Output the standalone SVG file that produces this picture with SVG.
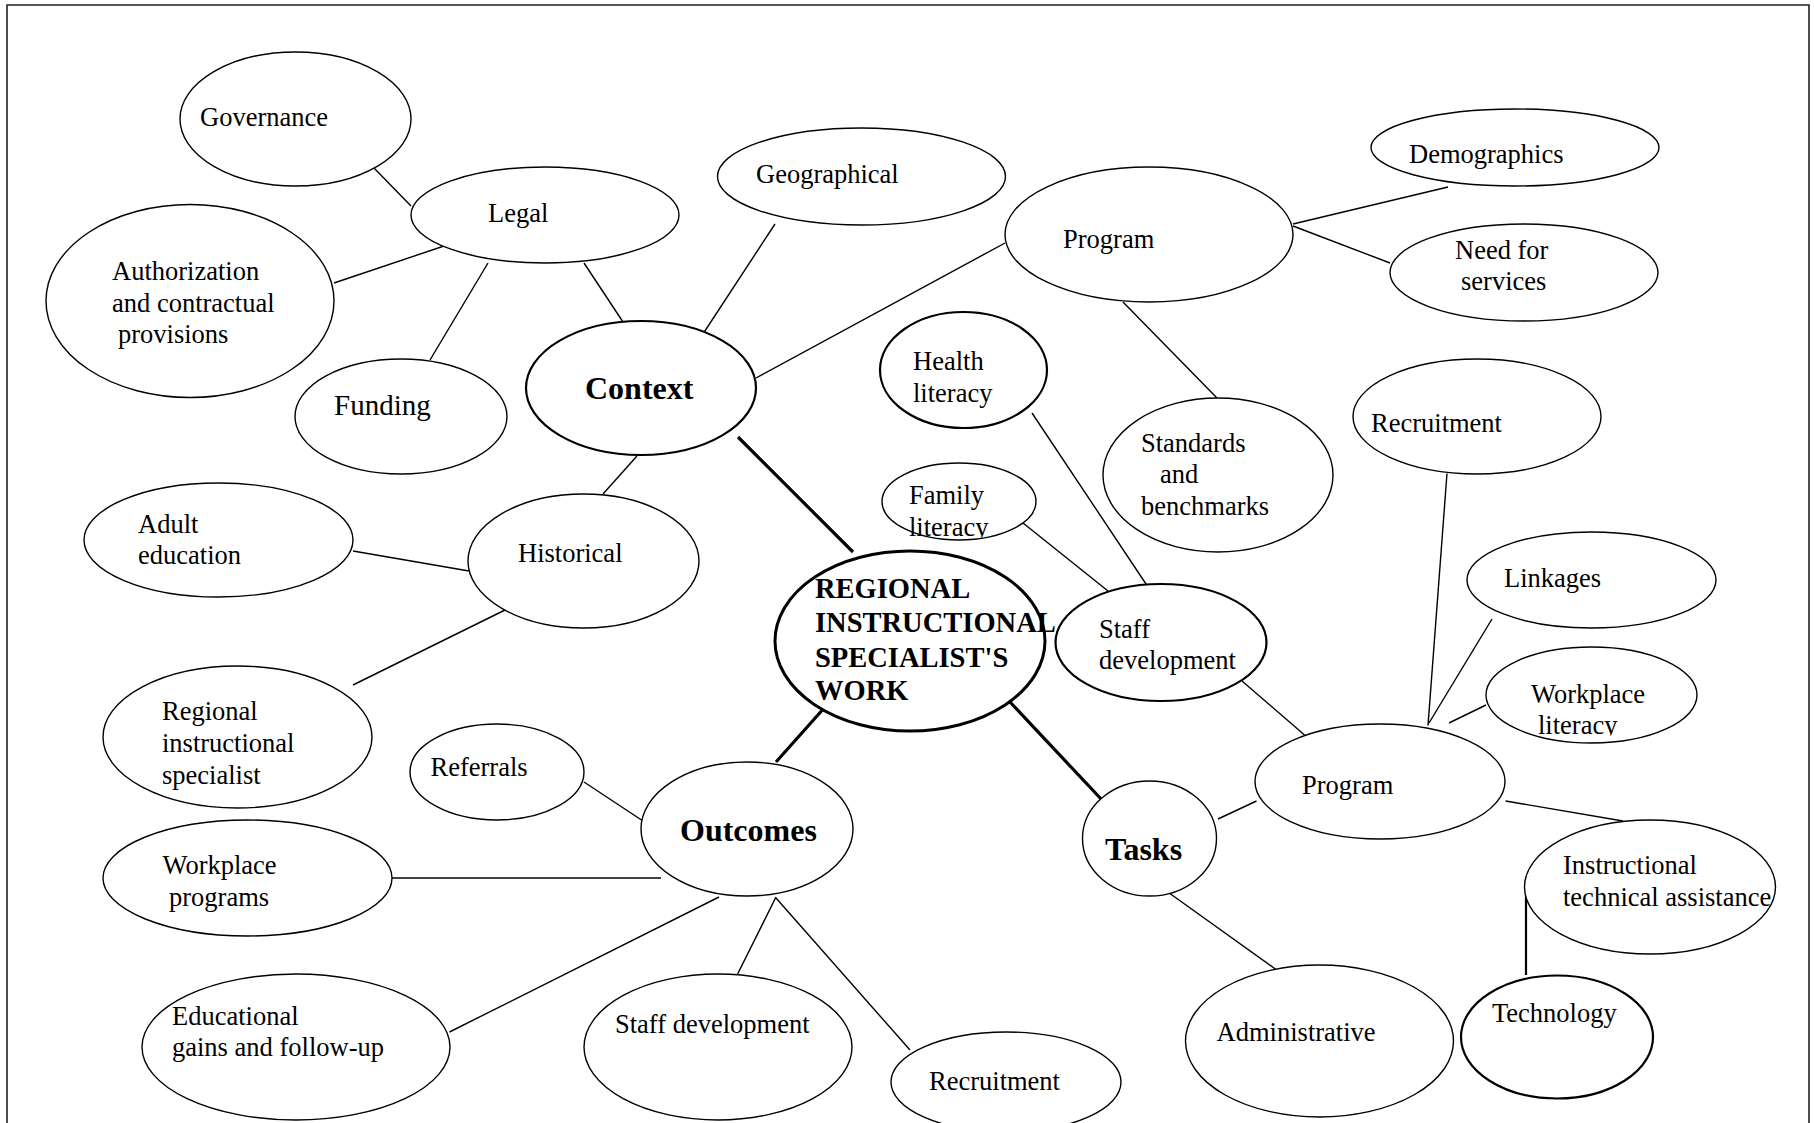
<svg xmlns="http://www.w3.org/2000/svg" width="1814" height="1123" viewBox="0 0 1814 1123">
<style>
.n{fill:#fff;stroke:#000;stroke-width:1.4}
.k{fill:#fff;stroke:#000;stroke-width:2.2}
.c{fill:#fff;stroke:#000;stroke-width:3}
.t{font-family:"Liberation Serif","Times New Roman",serif;font-size:26.5px;fill:#000}
.b{font-family:"Liberation Serif","Times New Roman",serif;font-size:32px;font-weight:bold;fill:#000}
.bc{font-family:"Liberation Serif","Times New Roman",serif;font-size:28.5px;font-weight:bold;fill:#000}
#connectors line{stroke:#000;stroke-width:1.4}
#connectors line.th{stroke-width:3.2}
#connectors line.md{stroke-width:2.2}
</style>
<defs>
<clipPath id="clipFam"><rect x="880" y="460" width="160" height="77.5"/></clipPath>
<clipPath id="clipWork"><rect x="1480" y="640" width="220" height="95.5"/></clipPath>
</defs>
<rect width="1814" height="1123" fill="#fff"/>
<path d="M7,1123 V5 H1809 V1123" fill="none" stroke="#222" stroke-width="1.6"/>
<g id="connectors">
<line x1="374" y1="168" x2="411" y2="206"/>
<line x1="334" y1="283" x2="450" y2="244"/>
<line x1="430" y1="360" x2="488" y2="263"/>
<line x1="584" y1="263" x2="623" y2="322"/>
<line x1="775" y1="224" x2="699" y2="340"/>
<line x1="1005" y1="243" x2="756" y2="378"/>
<line x1="1293" y1="224" x2="1448" y2="187"/>
<line x1="1293" y1="226" x2="1390" y2="263"/>
<line x1="1123" y1="302" x2="1217" y2="398"/>
<line x1="637" y1="456" x2="603" y2="494"/>
<line x1="353" y1="551" x2="469" y2="571"/>
<line x1="353" y1="685" x2="507" y2="609"/>
<line class="th" x1="738" y1="437" x2="853" y2="552"/>
<line class="th" x1="825" y1="707" x2="776" y2="762"/>
<line class="th" x1="1010" y1="702" x2="1102" y2="800"/>
<line x1="584" y1="782" x2="643" y2="821"/>
<line x1="392" y1="878" x2="661" y2="878"/>
<line x1="449.5" y1="1032" x2="719" y2="897"/>
<line x1="737.6" y1="974" x2="776" y2="897"/>
<line x1="776" y1="898" x2="910" y2="1050"/>
<line x1="1032" y1="413" x2="1148" y2="587"/>
<line x1="1023" y1="523" x2="1108" y2="591"/>
<line x1="1242" y1="681" x2="1308" y2="738"/>
<line x1="1218" y1="819" x2="1256.5" y2="801"/>
<line x1="1447" y1="473.5" x2="1428" y2="725.5"/>
<line x1="1492" y1="619" x2="1429" y2="723"/>
<line x1="1486" y1="705" x2="1449" y2="723"/>
<line x1="1505.5" y1="801" x2="1623" y2="821"/>
<line class="md" x1="1526" y1="893" x2="1526" y2="975"/>
<line x1="1165" y1="890" x2="1276" y2="969.5"/>
</g>
<g id="governance"><ellipse class="n" cx="295.5" cy="119" rx="115.5" ry="67"/><text class="t" x="200" y="126">Governance</text></g>
<g id="legal"><ellipse class="n" cx="545" cy="215" rx="134" ry="48"/><text class="t" x="488" y="222">Legal</text></g>
<g id="authorization"><ellipse class="n" cx="190" cy="301" rx="144" ry="96.5"/><text class="t" x="112" y="280">Authorization</text><text class="t" x="112" y="312">and contractual</text><text class="t" x="118" y="343">provisions</text></g>
<g id="funding"><ellipse class="n" cx="401" cy="416.5" rx="106" ry="57.5"/><text class="t" x="334" y="415" style="font-size:29px">Funding</text></g>
<g id="context"><ellipse class="k" cx="641" cy="388" rx="115" ry="67"/><text class="b" x="585" y="399">Context</text></g>
<g id="geographical"><ellipse class="n" cx="861.5" cy="176.5" rx="144" ry="48.5"/><text class="t" x="756" y="183">Geographical</text></g>
<g id="program-context"><ellipse class="n" cx="1149" cy="234.5" rx="144" ry="67.5"/><text class="t" x="1063" y="248">Program</text></g>
<g id="demographics"><ellipse class="n" cx="1515" cy="147.5" rx="144" ry="38.5"/><text class="t" x="1409" y="163">Demographics</text></g>
<g id="need-for-services"><ellipse class="n" cx="1524" cy="272.5" rx="134" ry="48.5"/><text class="t" x="1455" y="259">Need for</text><text class="t" x="1461" y="290">services</text></g>
<g id="health-literacy"><ellipse class="k" cx="963.5" cy="370" rx="83.5" ry="58"/><text class="t" x="913" y="370">Health</text><text class="t" x="913" y="402">literacy</text></g>
<g id="standards"><ellipse class="n" cx="1218" cy="475" rx="115" ry="77"/><text class="t" x="1141" y="452">Standards</text><text class="t" x="1160" y="483">and</text><text class="t" x="1141" y="515">benchmarks</text></g>
<g id="recruitment-program"><ellipse class="n" cx="1477" cy="416.5" rx="124" ry="57.5"/><text class="t" x="1371" y="432">Recruitment</text></g>
<g id="historical"><ellipse class="n" cx="583.5" cy="561" rx="115.5" ry="67"/><text class="t" x="518" y="561.5">Historical</text></g>
<g id="adult-education"><ellipse class="n" cx="218.5" cy="540" rx="134.5" ry="57"/><text class="t" x="138" y="533">Adult</text><text class="t" x="138" y="564">education</text></g>
<g id="regional-specialist"><ellipse class="n" cx="237.5" cy="737" rx="134.5" ry="71"/><text class="t" x="162" y="720">Regional</text><text class="t" x="162" y="752">instructional</text><text class="t" x="162" y="783.5">specialist</text></g>
<g id="family-literacy"><ellipse class="n" cx="959" cy="501.5" rx="77" ry="38.5"/><text class="t" x="909" y="504">Family</text><text class="t" x="909" y="536" clip-path="url(#clipFam)">literacy</text></g>
<g id="staff-development-tasks"><ellipse class="k" cx="1161" cy="642.5" rx="105.5" ry="58.5"/><text class="t" x="1099" y="638">Staff</text><text class="t" x="1099" y="669">development</text></g>
<g id="linkages"><ellipse class="n" cx="1591.5" cy="580" rx="124.5" ry="48"/><text class="t" x="1504" y="587">Linkages</text></g>
<g id="workplace-literacy"><ellipse class="n" cx="1591.5" cy="695" rx="105.5" ry="48"/><text class="t" x="1531" y="703">Workplace</text><text class="t" x="1538" y="734" clip-path="url(#clipWork)">literacy</text></g>
<g id="program-tasks"><ellipse class="n" cx="1380" cy="781.5" rx="125" ry="57.5"/><text class="t" x="1302" y="794">Program</text></g>
<g id="tasks"><ellipse class="n" cx="1149.5" cy="838.5" rx="67" ry="57.5"/><text class="b" x="1105" y="860">Tasks</text></g>
<g id="instructional-assistance"><ellipse class="n" cx="1650" cy="887" rx="125.5" ry="67"/><text class="t" x="1563" y="874">Instructional</text><text class="t" x="1563" y="906">technical assistance</text></g>
<g id="administrative"><ellipse class="n" cx="1319.5" cy="1041" rx="134" ry="76"/><text class="t" x="1216.6" y="1041">Administrative</text></g>
<g id="technology"><ellipse class="k" cx="1557" cy="1037" rx="96" ry="61.5"/><text class="t" x="1492" y="1022">Technology</text></g>
<g id="recruitment-outcomes"><ellipse class="n" cx="1006" cy="1082" rx="115" ry="50"/><text class="t" x="929" y="1090">Recruitment</text></g>
<g id="referrals"><ellipse class="n" cx="497" cy="772" rx="87" ry="48"/><text class="t" x="430.5" y="776">Referrals</text></g>
<g id="outcomes"><ellipse class="n" cx="747" cy="829" rx="106" ry="67"/><text class="b" x="680" y="840.5">Outcomes</text></g>
<g id="workplace-programs"><ellipse class="n" cx="247.5" cy="878" rx="144.5" ry="58"/><text class="t" x="162.5" y="874">Workplace</text><text class="t" x="169" y="906">programs</text></g>
<g id="educational-gains"><ellipse class="n" cx="296" cy="1047" rx="154" ry="73"/><text class="t" x="172" y="1024.5">Educational</text><text class="t" x="172" y="1056">gains and follow-up</text></g>
<g id="staff-development-outcomes"><ellipse class="n" cx="718" cy="1047" rx="134" ry="73"/><text class="t" x="615" y="1033">Staff development</text></g>
<g id="center"><ellipse class="c" cx="910" cy="641" rx="135" ry="90"/><text class="bc" x="815" y="598">REGIONAL</text><text class="bc" x="815" y="632">INSTRUCTIONAL</text><text class="bc" x="815" y="667">SPECIALIST'S</text><text class="bc" x="815" y="700">WORK</text></g>
</svg>
